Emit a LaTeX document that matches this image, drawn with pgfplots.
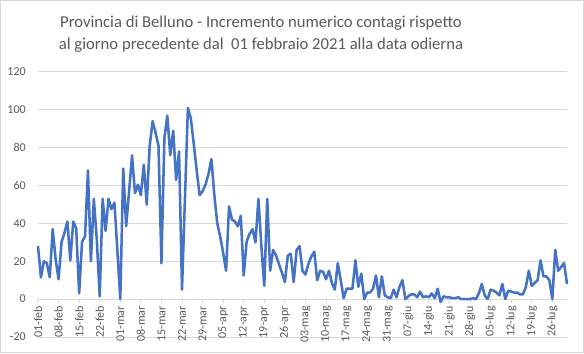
\documentclass[border=0pt]{standalone}
\usepackage{pgfplots}
\pgfplotsset{compat=1.18}
\usepackage{fontspec}
\setmainfont{Carlito}
\definecolor{lineblue}{HTML}{4472C4}
\definecolor{gridgray}{HTML}{D9D9D9}
\definecolor{txtgray}{HTML}{595959}
\begin{document}
\begin{tikzpicture}[x=1pt,y=1pt]
\draw[gridgray, line width=0.75pt] (0.375,0.375) rectangle (437.625,264.375);
\node[align=center, text=txtgray, font=\fontsize{12.5}{16.5}\selectfont] at (195.75,239.25)
  {Provincia di Belluno - Incremento numerico contagi rispetto\\al giorno precedente dal \ 01 febbraio 2021 alla data odierna};
\begin{axis}[
  at={(28.5pt,12pt)}, anchor=south west,
  scale only axis, width=396.75pt, height=198.75pt,
  xmin=0, xmax=180, ymin=-20, ymax=120,
  axis x line=middle, axis y line=left,
  hide obscured x ticks=false,
  x axis line style={-, draw=gridgray, line width=0.75pt},
  y axis line style={draw=none},
  ytick={-20,0,...,120},
  ymajorgrids, grid style={gridgray, line width=0.75pt},
  xtick={0,7,...,175},
  xticklabels={01-feb,08-feb,15-feb,22-feb,01-mar,08-mar,15-mar,22-mar,29-mar,05-apr,12-apr,19-apr,26-apr,03-mag,10-mag,17-mag,24-mag,31-mag,07-giu,14-giu,21-giu,28-giu,05-lug,12-lug,19-lug,26-lug},
  xtick align=outside,
  x tick style={draw=gridgray, line width=0.75pt},
  major tick length=3pt,
  y tick style={draw=none},
  tick label style={font=\fontsize{9}{11}\selectfont, text=txtgray},
  xticklabel style={rotate=90, anchor=east, inner sep=2pt},
  yticklabel style={anchor=east, inner sep=0pt, xshift=-7.5pt},
  /pgf/number format/assume math mode=true,
  clip=false,
]
\addplot[lineblue, line width=1.9pt, line join=round, mark=none] table {
x y
0 28
1 11.5
2 20
3 19
4 11.5
5 37
6 21
7 10.5
8 30
9 35
10 41
11 20.5
12 41
13 37.5
14 3
15 30.5
16 33
17 68
18 20
19 53
20 31.5
21 1.5
22 53
23 36
24 53
25 47.5
26 51
27 26
28 0
29 69
30 38.5
31 57
32 76
33 56
34 60.5
35 55
36 71
37 50
38 81
39 94
40 88
41 81
42 19
43 85
44 97
45 76
46 89
47 63
48 78
49 5
50 53
51 101
52 95.5
53 82
54 68
55 55
56 57
57 60.5
58 66
59 74
60 55
61 40
62 33
63 24.5
64 15
65 49
66 42
67 41
68 38.5
69 44
70 12.5
71 30.5
72 34.5
73 37
74 30
75 53
76 28
77 7
78 53
79 15
80 26
81 23
82 18.5
83 14
84 9
85 23
86 24
87 9
88 26
89 28
90 15
91 13
92 18.5
93 22.5
94 25
95 10
96 15
97 14.5
98 10.5
99 15
100 8.5
101 5
102 19
103 10
104 0.5
105 5.5
106 5.5
107 5.5
108 20.5
109 6.5
110 13.5
111 0
112 3.5
113 3.5
114 5.5
115 12.5
116 1
117 12
118 2
119 1
120 0.5
121 5
122 1
123 6.5
124 10
125 0
126 1.5
127 2.5
128 2.5
129 1
130 4
131 1
132 1.5
133 1
134 3
135 0.5
136 5.5
137 -1.5
138 1.5
139 1
140 1
141 0.5
142 0.5
143 1
144 0
145 0
146 0
147 0
148 0.5
149 0
150 3
151 8
152 2
153 0
154 5
155 4.5
156 3.5
157 2
158 8
159 0
160 4.5
161 4
162 3.5
163 3.5
164 2.5
165 2.5
166 6.5
167 15
168 7
169 8.5
170 10
171 20.5
172 12
173 12
174 10
175 0
176 26
177 15
178 17
179 19
180 8
};
\end{axis}
\end{tikzpicture}
\end{document}
